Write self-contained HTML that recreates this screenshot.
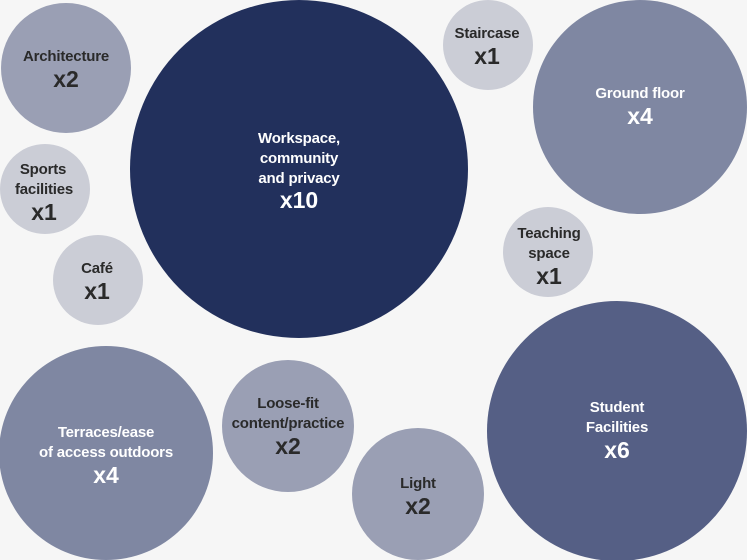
<!DOCTYPE html>
<html><head><style>
html,body{margin:0;padding:0;background:#f6f6f6;}
svg{display:block;}
text{font-family:"Liberation Sans",sans-serif;font-weight:bold;text-anchor:middle;}
.l{font-size:15px;letter-spacing:-0.2px;}
.v{font-size:23px;}
.d{fill:#2a2a2a;}
.w{fill:#fff;}
</style></head><body>
<svg width="747" height="560" viewBox="0 0 747 560">
<rect width="747" height="560" fill="#f6f6f6"/>
<circle cx="66" cy="68" r="65" fill="#9a9fb4"/>
<circle cx="299" cy="169" r="169" fill="#22305c"/>
<circle cx="488" cy="45" r="45" fill="#cbcdd6"/>
<circle cx="640" cy="107" r="107" fill="#7f87a2"/>
<circle cx="45" cy="189" r="45" fill="#cbcdd6"/>
<circle cx="98" cy="280" r="45" fill="#cbcdd6"/>
<circle cx="548" cy="252" r="45" fill="#cbcdd6"/>
<circle cx="106" cy="453" r="107" fill="#7f87a2"/>
<circle cx="288" cy="426" r="66" fill="#9a9fb4"/>
<circle cx="418" cy="494" r="66" fill="#9a9fb4"/>
<circle cx="617" cy="431" r="130" fill="#555f85"/>

<text class="l d" x="66" y="61">Architecture</text><text class="v d" x="66" y="87">x2</text>
<text class="l w" x="299" y="143">Workspace,</text><text class="l w" x="299" y="163">community</text><text class="l w" x="299" y="183">and privacy</text><text class="v w" x="299" y="208">x10</text>
<text class="l d" x="487" y="38">Staircase</text><text class="v d" x="487" y="64">x1</text>
<text class="l w" x="640" y="98">Ground floor</text><text class="v w" x="640" y="124">x4</text>
<text class="l d" x="43" y="174">Sports</text><text class="l d" x="44" y="194">facilities</text><text class="v d" x="44" y="220">x1</text>
<text class="l d" x="97" y="273">Café</text><text class="v d" x="97" y="299">x1</text>
<text class="l d" x="549" y="238">Teaching</text><text class="l d" x="549" y="258">space</text><text class="v d" x="549" y="284">x1</text>
<text class="l w" x="106" y="437">Terraces/ease</text><text class="l w" x="106" y="457">of access outdoors</text><text class="v w" x="106" y="483">x4</text>
<text class="l d" x="288" y="408">Loose-fit</text><text class="l d" x="288" y="428">content/practice</text><text class="v d" x="288" y="454">x2</text>
<text class="l d" x="418" y="488">Light</text><text class="v d" x="418" y="514">x2</text>
<text class="l w" x="617" y="412">Student</text><text class="l w" x="617" y="432">Facilities</text><text class="v w" x="617" y="458">x6</text>
</svg>
</body></html>
